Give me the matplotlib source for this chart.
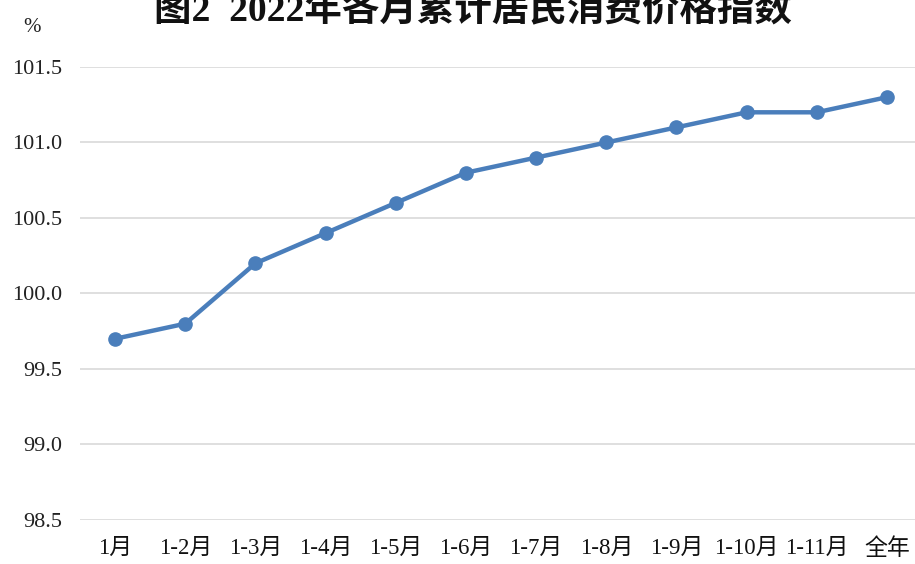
import matplotlib
matplotlib.use("Agg")
import matplotlib.pyplot as plt

categories = ["1月", "1-2月", "1-3月", "1-4月", "1-5月", "1-6月", "1-7月", "1-8月", "1-9月", "1-10月", "1-11月", "全年"]
values = [99.7, 99.8, 100.2, 100.4, 100.6, 100.8, 100.9, 101.0, 101.1, 101.2, 101.2, 101.3]
yticks = [98.5, 99.0, 99.5, 100.0, 100.5, 101.0, 101.5]
title = "图2  2022年各月累计居民消费价格指数"

fam = ["Liberation Serif", "Noto Sans CJK SC", "DejaVu Sans"]
plt.rcParams["font.family"] = fam

W, H = 915, 564
fig = plt.figure(figsize=(W / 100, H / 100), dpi=100)
left, right = 80, 922
top, bottom = 67, 520
ax = fig.add_axes([left / W, 1 - bottom / H, (right - left) / W, (bottom - top) / H])
ax.set_xlim(-0.5, len(categories) - 0.5)
ax.set_ylim(98.5, 101.5)
ax.set_yticks(yticks)
ax.set_yticklabels([f"{v:.1f}" for v in yticks], fontsize=16, color="#222222")
ax.set_xticks(range(len(categories)))
ax.set_xticklabels(categories, fontsize=16.5, color="#111111")
ax.tick_params(axis="both", length=0)
ax.tick_params(axis="y", pad=13)
ax.tick_params(axis="x", pad=13)
for s in ax.spines.values():
    s.set_visible(False)
ax.yaxis.grid(True, color="#d9d9d9", linewidth=1.2)
ax.set_axisbelow(True)

ax.plot(range(len(values)), values, color="#4a7ebb", linewidth=3.2,
        marker="o", markersize=9.5, markerfacecolor="#4a7ebb", markeredgecolor="#4a7ebb",
        clip_on=False, zorder=3)

fig.text(473 / W, 1 - 10 / H, title, ha="center", va="center", fontsize=27,
         fontweight="bold", color="#111111")
fig.text(32 / W, 1 - 27 / H, "%", ha="center", va="center", fontsize=15, color="#222222")

fig.savefig("out.png", dpi=100)
